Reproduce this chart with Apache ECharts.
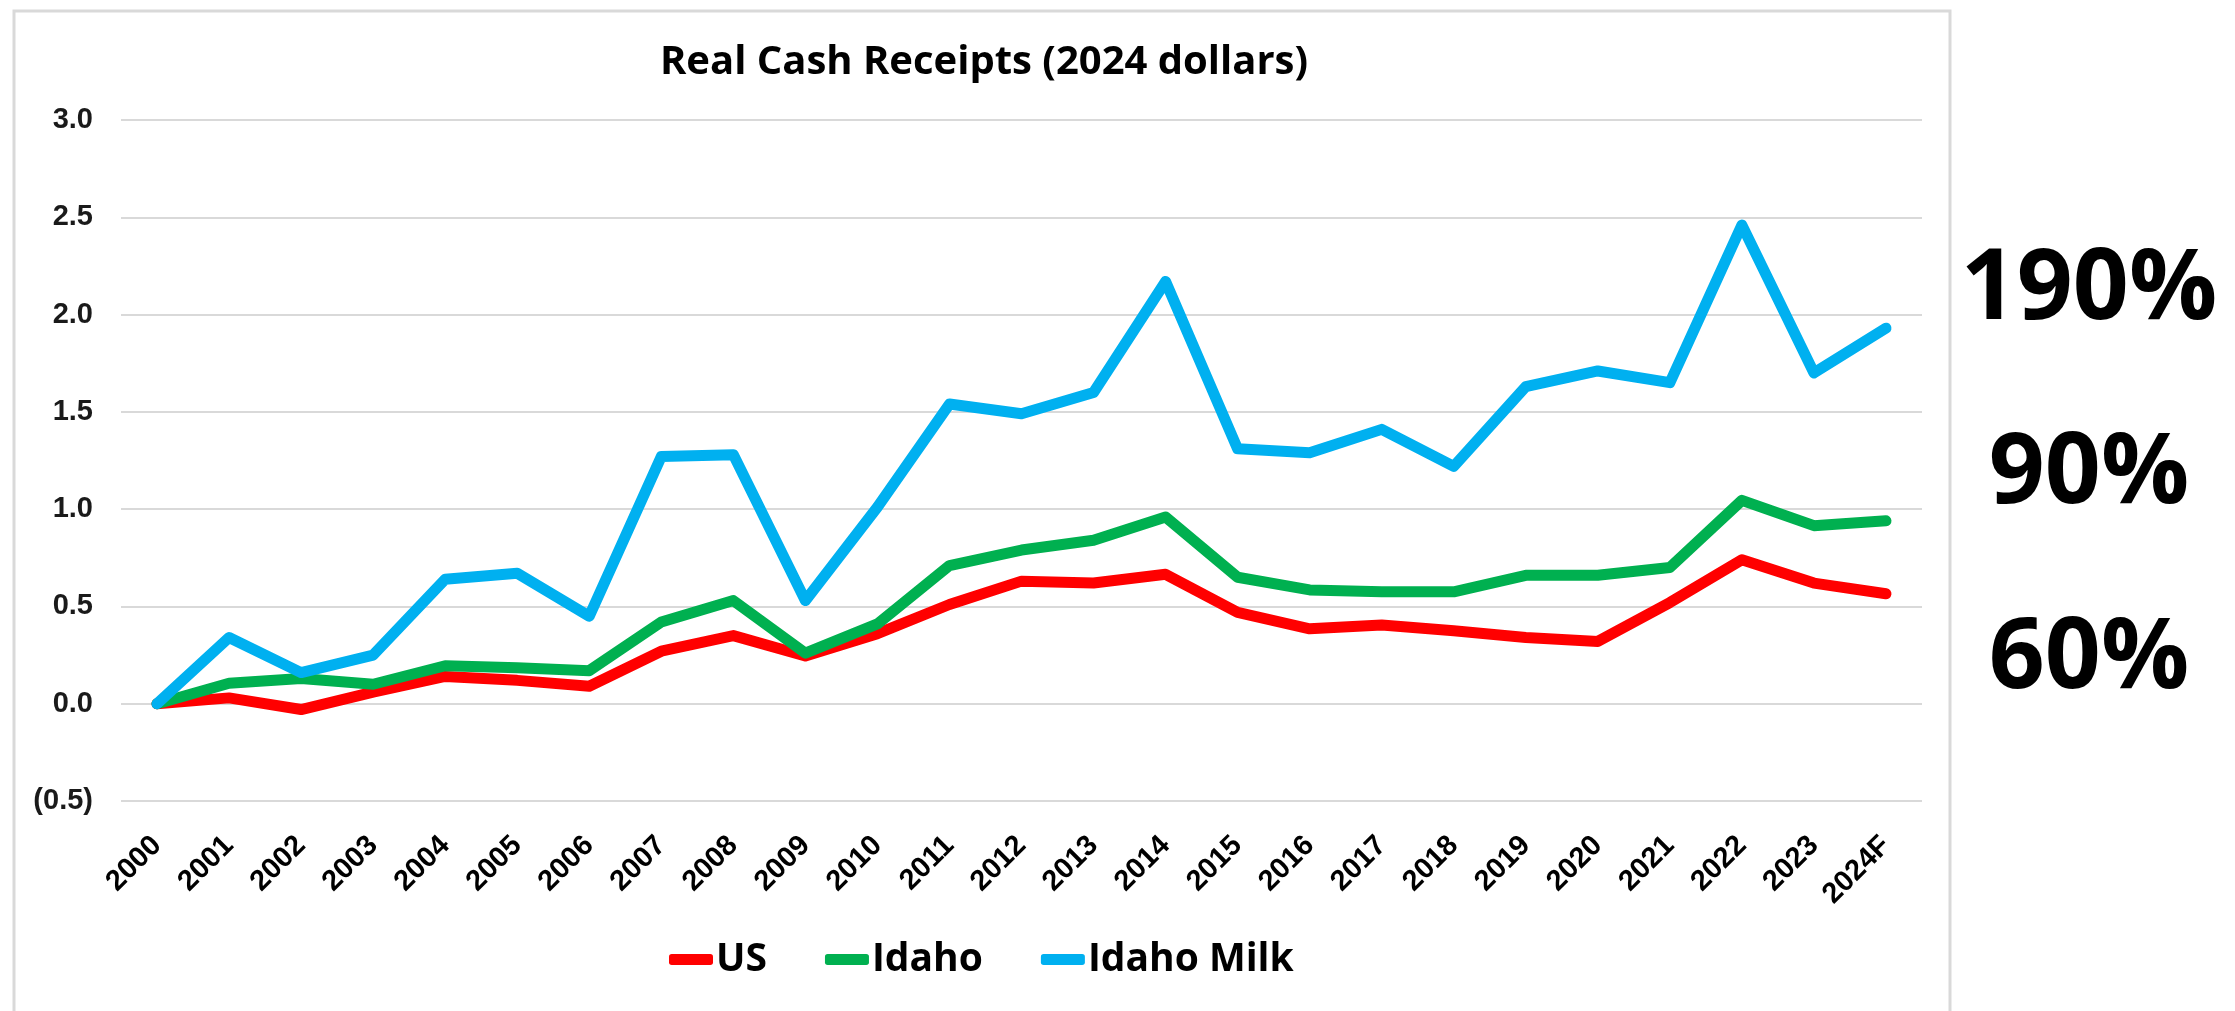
<!DOCTYPE html>
<html>
<head>
<meta charset="utf-8">
<title>Real Cash Receipts (2024 dollars)</title>
<script src="https://cdn.jsdelivr.net/npm/echarts@6/dist/echarts.min.js"></script>
<style>
  html, body { margin: 0; padding: 0; background: #fff; }
  #main { width: 2235px; height: 1011px; }
</style>
</head>
<body>
<div id="main"></div>
<script>
// values
const years = ['2000', '2001', '2002', '2003', '2004', '2005', '2006', '2007', '2008', '2009',
  '2010', '2011', '2012', '2013', '2014', '2015', '2016', '2017', '2018', '2019',
  '2020', '2021', '2022', '2023', '2024F']
const usData = [0, 0.03, -0.03, 0.06, 0.14, 0.12, 0.09, 0.27, 0.35, 0.245,
  0.36, 0.51, 0.63, 0.62, 0.665, 0.47, 0.385, 0.405, 0.375, 0.34,
  0.32, 0.52, 0.74, 0.62, 0.565]
const idahoData = [0, 0.105, 0.13, 0.1, 0.195, 0.185, 0.17, 0.42, 0.53, 0.26,
  0.41, 0.71, 0.79, 0.84, 0.96, 0.65, 0.585, 0.575, 0.575, 0.66,
  0.66, 0.7, 1.045, 0.915, 0.94]
const idahoMilkData = [0, 0.34, 0.16, 0.25, 0.64, 0.67, 0.45, 1.27, 1.28, 0.53,
  1.01, 1.54, 1.49, 1.6, 2.17, 1.31, 1.29, 1.41, 1.22, 1.63,
  1.71, 1.65, 2.46, 1.7, 1.93]
const seriesNames = ['US', 'Idaho', 'Idaho Milk']
const seriesColors = ['#ff0000', '#00b050', '#00b0f0']
const changeLabels = ['190%', '90%', '60%']

const yMin = -0.5
const yMax = 3
const yStep = 0.5

const chart = echarts.init(document.getElementById('main'), null, { renderer: 'canvas' })

const changeY = [291, 475, 660]
const changeText = changeLabels.map((label, i) => {
  return {
    type: 'text',
    x: 2089,
    y: changeY[i],
    style: {
      text: label,
      align: 'center',
      verticalAlign: 'middle',
      fontFamily: 'Open Sans',
      fontWeight: 'bold',
      fontSize: 98,
      fill: '#000'
    }
  }
})

const initOption = {
  backgroundColor: '#fff',
  animation: false,
  title: {
    text: 'Real Cash Receipts (2024 dollars)',
    left: 979,
    top: 38,
    textAlign: 'center',
    textStyle: {
      fontFamily: 'Open Sans',
      fontWeight: 'bold',
      fontSize: 40,
      color: '#000'
    }
  },
  legend: {
    data: seriesNames,
    left: 664,
    top: 935,
    icon: 'roundRect',
    itemWidth: 44,
    itemHeight: 11,
    itemGap: 58,
    textStyle: {
      fontFamily: 'Open Sans',
      fontWeight: 'bold',
      fontSize: 39,
      color: '#000',
      padding: [0, 0, 0, -2]
    }
  },
  grid: {
    left: 121,
    right: 313,
    top: 120,
    bottom: 210,
    containLabel: false
  },
  xAxis: {
    type: 'category',
    data: years,
    boundaryGap: true,
    axisLine: { show: false },
    axisTick: { show: false },
    axisLabel: {
      interval: 0,
      rotate: 45,
      margin: 40,
      fontFamily: 'Liberation Sans',
      fontWeight: 'bold',
      fontSize: 29,
      color: '#000'
    }
  },
  yAxis: {
    type: 'value',
    min: yMin,
    max: yMax,
    interval: yStep,
    axisLine: { show: false },
    axisTick: { show: false },
    axisLabel: {
      margin: 28,
      fontFamily: 'Liberation Sans',
      fontWeight: 'bold',
      fontSize: 29,
      color: '#1a1a1a',
      formatter: v => v < 0 ? '(' + Math.abs(v).toFixed(1) + ')' : v.toFixed(1)
    },
    splitLine: {
      lineStyle: { color: '#d9d9d9', width: 2 }
    }
  },
  graphic: [
    {
      type: 'rect',
      z: -10,
      shape: { x: 14, y: 11, width: 1936, height: 1020 },
      style: { fill: 'none', stroke: '#d9d9d9', lineWidth: 3 }
    },
    ...changeText
  ],
  series: [usData, idahoData, idahoMilkData].map((data, i) => {
    return {
      name: seriesNames[i],
      type: 'line',
      data: data,
      symbol: 'none',
      color: seriesColors[i],
      lineStyle: {
        width: 11,
        color: seriesColors[i],
        cap: 'round',
        join: 'round'
      },
      emphasis: { disabled: true }
    }
  })
}

chart.setOption(initOption)
</script>
</body>
</html>
